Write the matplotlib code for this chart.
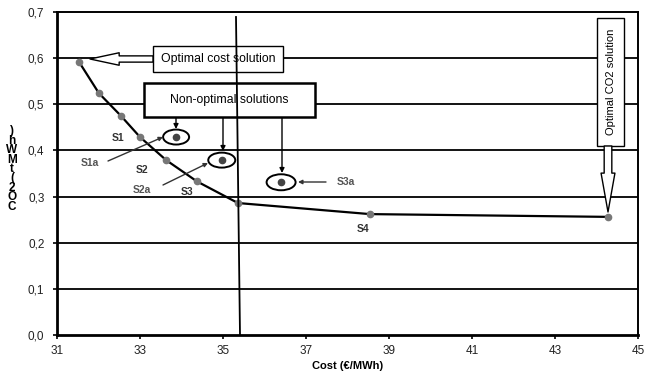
import matplotlib
matplotlib.use("Agg")
import matplotlib.pyplot as plt
from matplotlib.patches import Ellipse, Rectangle

plt.rcParams['font.family'] = ['Liberation Sans', 'DejaVu Sans']

# ---- data ----
cost = [31.53, 32.01, 32.54, 33.00, 33.63, 34.37, 35.36, 38.54, 44.28]
co2 = [0.592, 0.524, 0.475, 0.429, 0.379, 0.333, 0.286, 0.262, 0.256]
alt_cost = [33.87, 34.97, 36.40]
alt_co2 = [0.429, 0.379, 0.331]
xticks = [31, 33, 35, 37, 39, 41, 43, 45]
yticks = [0.0, 0.1, 0.2, 0.3, 0.4, 0.5, 0.6, 0.7]
ytick_labels = ['0,0', '0,1', '0,2', '0,3', '0,4', '0,5', '0,6', '0,7']

W, H = 657, 383
L, R, T, B = 57, 638, 12, 335
XMIN, XMAX, YMIN, YMAX = 31, 45, 0.0, 0.7


def d(px, py):
    return (XMIN + (px - L) / (R - L) * (XMAX - XMIN),
            YMAX - (py - T) / (B - T) * (YMAX - YMIN))


def dw(wpx):
    return wpx / (R - L) * (XMAX - XMIN)


def dh(hpx):
    return hpx / (B - T) * (YMAX - YMIN)


fig = plt.figure(figsize=(W / 100, H / 100), dpi=100)
ax = fig.add_axes([L / W, 1 - B / H, (R - L) / W, (B - T) / H])
ax.set_xlim(XMIN, XMAX)
ax.set_ylim(YMIN, YMAX)

for yv in yticks[1:-1]:
    ax.axhline(yv, color='black', lw=1.3, zorder=1)

ax.plot(cost, co2, color='black', lw=1.6, marker='o', markersize=4.5,
        markerfacecolor='#777777', markeredgecolor='#777777', zorder=4)
ax.plot(alt_cost, alt_co2, ls='none', marker='o', markersize=4.5,
        markerfacecolor='#444444', markeredgecolor='#444444', zorder=4)

# ellipses around non-optimal solutions
for cx, cy, wpx, hpx in zip(alt_cost, alt_co2, [26, 27, 29], [15, 15, 16]):
    ax.add_patch(Ellipse((cx, cy), dw(wpx), dh(hpx), fill=False,
                         ec='black', lw=1.4, zorder=5))

ax.set_xticks(xticks)
ax.set_xticklabels([str(v) for v in xticks])
ax.set_yticks(yticks)
ax.set_yticklabels(ytick_labels)
ax.tick_params(axis='both', labelsize=8.5, length=3, width=1.2, direction='out',
               color='black', labelcolor='#222222')
ax.tick_params(axis='x', pad=4)
ax.tick_params(axis='y', pad=6)
for s in ['left', 'bottom']:
    ax.spines[s].set_linewidth(2.0)
for s in ['right', 'top']:
    ax.spines[s].set_linewidth(1.4)

ax.set_xlabel('Cost (€/MWh)', fontsize=8, fontweight='bold', labelpad=3)

# stacked (broken) y label, as one text
ylab_chars = [')', 'h', 'W', 'M', 't', '(', '2', 'O', 'C']
fig.text(12 / W, 1 - 169 / H, '\n'.join(ylab_chars), fontsize=8.5,
         fontweight='bold', ha='center', va='center', linespacing=0.72)

# vertical line
x0, y0 = d(236, 17)
x1, y1 = d(240, 335)
ax.plot([x0, x1], [y0, y1], color='black', lw=1.3, zorder=9, clip_on=False)

# Optimal cost solution box and hollow arrow
bx0, by0 = d(153, 72)
bx1, by1 = d(283, 46)
ax.add_patch(Rectangle((bx0, by0), bx1 - bx0, by1 - by0, fc='white', ec='black',
                       lw=1.0, zorder=6))
ax.text(*d(218, 59), 'Optimal cost solution', fontsize=8.8, ha='center',
        va='center', zorder=7)
ax.annotate('', xy=d(90, 59), xytext=d(153, 59),
            arrowprops=dict(arrowstyle='simple,head_length=21,head_width=9,tail_width=4.5',
                            mutation_scale=1, fc='white', ec='black', lw=1.0,
                            shrinkA=0, shrinkB=0), zorder=6)

# Non-optimal solutions box
nx0, ny0 = d(144, 117)
nx1, ny1 = d(315, 83)
ax.add_patch(Rectangle((nx0, ny0), nx1 - nx0, ny1 - ny0, fc='white', ec='black',
                       lw=1.8, zorder=6))
ax.text(*d(229, 100), 'Non-optimal solutions', fontsize=8.8, ha='center',
        va='center', zorder=7)
for (sx, ex, ey) in [(176, 176, 129), (223, 223, 151), (282, 282, 173)]:
    ax.annotate('', xy=d(ex, ey), xytext=d(sx, 118),
                arrowprops=dict(arrowstyle='-|>', mutation_scale=7, color='black',
                                lw=1.0, shrinkA=0, shrinkB=0), zorder=6)

# Optimal CO2 solution box (vertical) and hollow arrow
vx0, vy0 = d(597, 146)
vx1, vy1 = d(624, 18)
ax.add_patch(Rectangle((vx0, vy0), vx1 - vx0, vy1 - vy0, fc='white', ec='black',
                       lw=1.0, zorder=6))
ax.text(*d(611, 82), 'Optimal CO2 solution', fontsize=8, ha='center',
        va='center', rotation=90, zorder=7)
ax.annotate('', xy=d(608, 212), xytext=d(608, 146),
            arrowprops=dict(arrowstyle='simple,head_length=28,head_width=10,tail_width=5.5',
                            mutation_scale=1, fc='white', ec='black', lw=1.0,
                            shrinkA=0, shrinkB=0), zorder=6)

# labels for the non-optimal alternatives with thin arrows
for lab, lpos, start, end in [('S1a', (90, 163), (108, 161), (163, 137)),
                              ('S2a', (142, 190), (163, 185), (208, 163)),
                              ('S3a', (346, 182), (326, 182), (298, 182))]:
    ax.text(*d(*lpos), lab, fontsize=7.5, fontweight='bold', color='#555555',
            ha='center', va='center', zorder=7)
    ax.annotate('', xy=d(*end), xytext=d(*start),
                arrowprops=dict(arrowstyle='-|>', mutation_scale=6, color='#333333',
                                lw=1.0, shrinkA=0, shrinkB=0), zorder=6)

for lab, lpos in [('S1', (118, 138)), ('S2', (142, 170)), ('S3', (187, 192)),
                  ('S4', (363, 229))]:
    ax.text(*d(*lpos), lab, fontsize=7.5, fontweight='bold', color='#333333',
            ha='center', va='center', zorder=7)

fig.savefig('out.png', dpi=100)
